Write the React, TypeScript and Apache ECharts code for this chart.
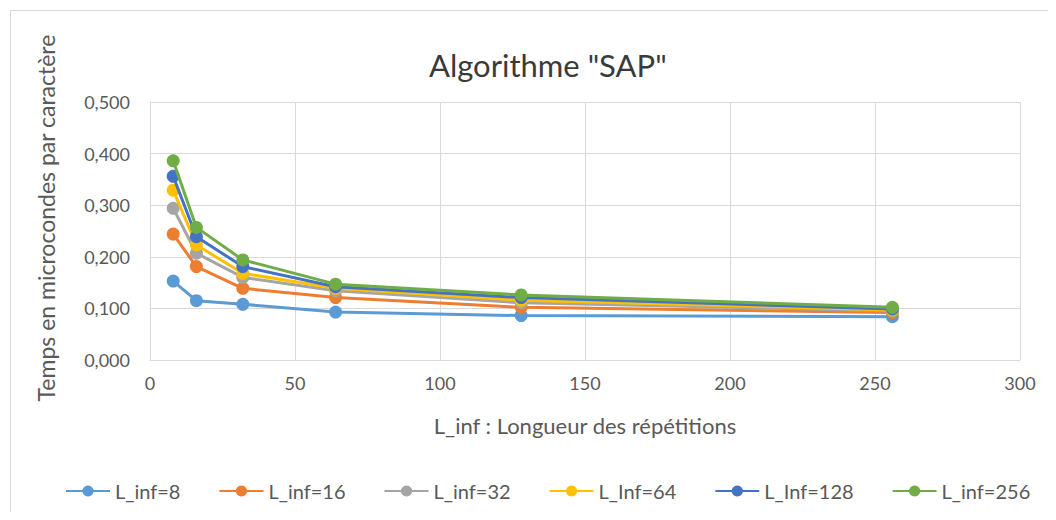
import React, { useEffect, useRef } from "react";
import * as echarts from "echarts";

const xValues = [8, 16, 32, 64, 128, 256];
const seriesNames = ["L_inf=8", "L_inf=16", "L_inf=32", "L_Inf=64", "L_Inf=128", "L_inf=256"];
const s8 = [0.153, 0.115, 0.108, 0.093, 0.086, 0.084];
const s16 = [0.244, 0.181, 0.139, 0.121, 0.102, 0.092];
const s32 = [0.294, 0.207, 0.160, 0.134, 0.111, 0.095];
const s64 = [0.329, 0.223, 0.168, 0.139, 0.116, 0.097];
const s128 = [0.356, 0.239, 0.181, 0.142, 0.121, 0.099];
const s256 = [0.386, 0.257, 0.194, 0.147, 0.126, 0.102];
const allValues = [s8, s16, s32, s64, s128, s256];
const colors = ["#5B9BD5", "#ED7D31", "#A5A5A5", "#FFC000", "#4472C4", "#70AD47"];

const FONT = "Lato";

export default function App() {
  const ref = useRef<HTMLDivElement>(null);
  useEffect(() => {
    if (!ref.current) return;
    const chart = echarts.init(ref.current, undefined, { renderer: "svg" });
    chart.setOption({
      animation: false,
      backgroundColor: "#ffffff",
      textStyle: { fontFamily: FONT },
      title: {
        text: 'Algorithme "SAP"',
        left: 416,
        top: 36,
        textStyle: { fontFamily: FONT, fontSize: 31, fontWeight: "normal", color: "#3a3a3a" },
      },
      graphic: [
        {
          type: "rect",
          shape: { x: 2.5, y: 2.5, width: 1038, height: 530 },
          style: { fill: "none", stroke: "#d9d9d9", lineWidth: 1 },
          silent: true,
        },
      ],
      grid: { left: 142, right: 28, top: 94, bottom: 152, containLabel: false },
      legend: {
        bottom: 6,
        left: 52,
        width: 1000,
        itemWidth: 44,
        itemHeight: 14,
        itemGap: 38,
        textStyle: { fontFamily: FONT, fontSize: 20, color: "#595959" },
        data: seriesNames,
      },
      xAxis: {
        type: "value",
        min: 0,
        max: 300,
        interval: 50,
        name: "L_inf : Longueur des répétitions",
        nameLocation: "middle",
        nameGap: 54,
        nameTextStyle: { fontFamily: FONT, fontSize: 22, color: "#595959" },
        axisLine: { show: true, lineStyle: { color: "#d9d9d9" } },
        axisTick: { show: false },
        axisLabel: { fontFamily: FONT, fontSize: 18, color: "#595959", margin: 14 },
        splitLine: { show: true, lineStyle: { color: "#d9d9d9" } },
      },
      yAxis: {
        type: "value",
        min: 0,
        max: 0.5,
        interval: 0.1,
        name: "Temps en microcondes par caractère",
        nameLocation: "middle",
        nameGap: 93,
        nameTextStyle: { fontFamily: FONT, fontSize: 23, color: "#595959", padding: [0, 0, 0, 26] },
        axisLine: { show: true, lineStyle: { color: "#d9d9d9" } },
        axisTick: { show: false },
        axisLabel: {
          fontFamily: FONT,
          fontSize: 18,
          color: "#595959",
          margin: 20,
          formatter: (v: number) => v.toFixed(3).replace(".", ","),
        },
        splitLine: { show: true, lineStyle: { color: "#d9d9d9" } },
      },
      series: seriesNames.map((name, i) => ({
        name,
        type: "line",
        data: xValues.map((x, j) => [x, allValues[i][j]]),
        symbol: "circle",
        symbolSize: 13,
        lineStyle: { width: 3, color: colors[i] },
        itemStyle: { color: colors[i] },
        z: 2 + i,
      })),
    });
    return () => chart.dispose();
  }, []);
  return <div ref={ref} style={{ width: 1040, height: 504 }} />;
}
